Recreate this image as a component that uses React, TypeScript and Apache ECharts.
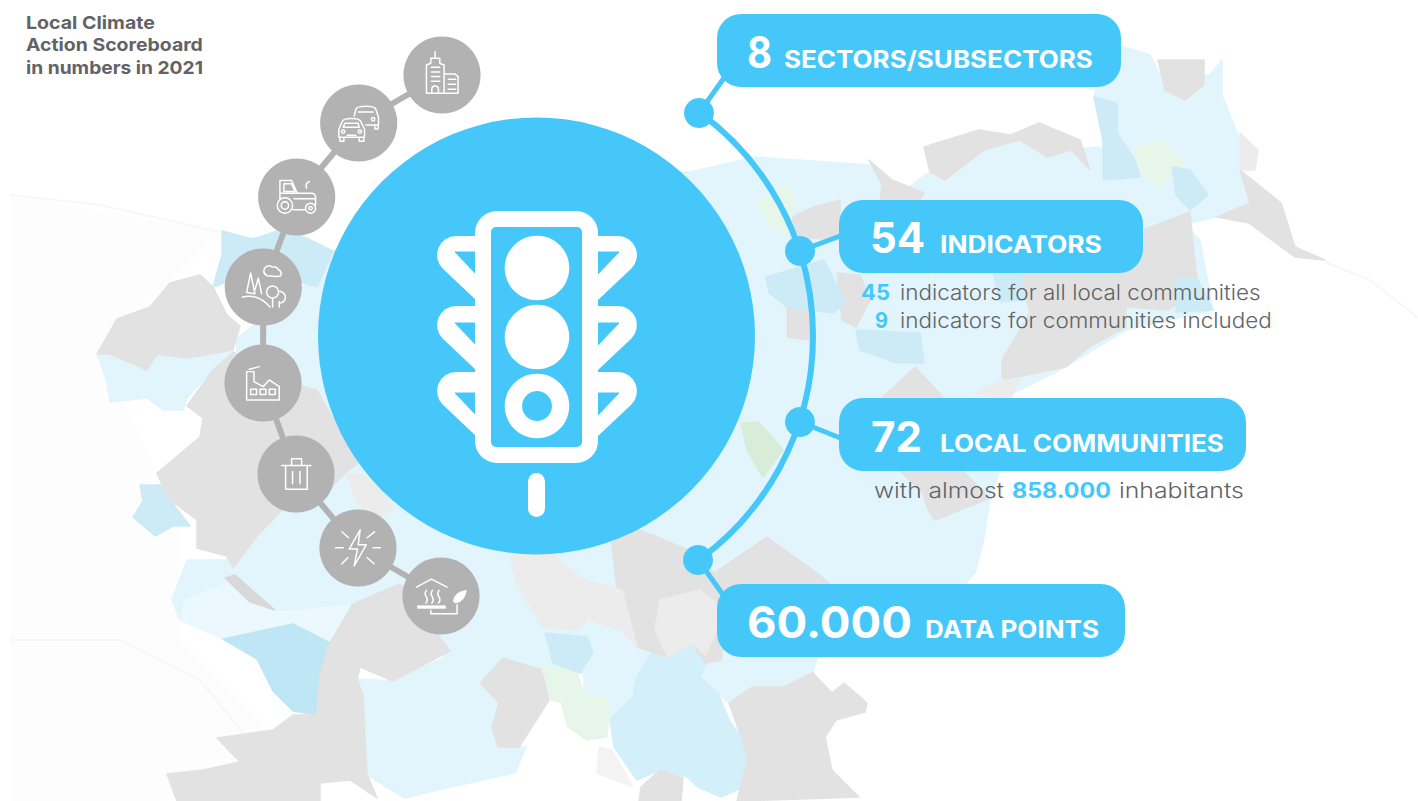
import React, { useEffect, useRef } from "react";
import * as echarts from "echarts";

const titleLines = ["Local Climate", "Action Scoreboard", "in numbers in 2021"];
const pillNumbers = ["8", "54", "72", "60.000"];
const pillLabels = ["SECTORS/SUBSECTORS", "INDICATORS", "LOCAL COMMUNITIES", "DATA POINTS"];
const indicatorCounts = ["45", "9"];
const indicatorNotes = ["indicators for all local communities", "indicators for communities included"];
const inhabitantsParts = ["with almost", "858.000", "inhabitants"];

const BLUE = "#45c8f9";
const GREY = "#b2b2b2";
const TEXT = "#626366";
const FONT = "Inter, 'Open Sans', sans-serif";

const LIGHT = "#e2f5fd";
const LIGHT2 = "#ebf8fd";
const MID = "#cdebf7";
const MID2 = "#bfe6f4";
const G = "#e2e2e2";
const G2 = "#ececec";
const GREEN = "#e6f6e8";
const GREEN2 = "#d9ecd8";

type Pt = [number, number];
const mapShapes: [string, Pt[]][] = [
  ["#fdfdfd", [[10, 195], [220, 232], [100, 350], [180, 520], [180, 640], [300, 760], [160, 801], [10, 801], [10, 640]]],
  [LIGHT, [[237, 338], [300, 290], [333, 251], [500, 170], [690, 172], [755, 157], [870, 165], [905, 190], [925, 175], [984, 150], [1020, 140], [1048, 157], [1071, 150], [1098, 147], [1200, 240], [1213, 310], [1126, 330], [1060, 370], [1000, 400], [1000, 470], [990, 500], [983, 543], [975, 573], [960, 590], [880, 650], [817, 657], [813, 673], [783, 687], [752, 687], [729, 703], [700, 677], [637, 677], [580, 673], [542, 670], [503, 658], [480, 683], [450, 660], [400, 628], [360, 628], [330, 643], [293, 624], [223, 639], [180, 620], [172, 600], [187, 560], [227, 560], [233, 500], [237, 338]]],
  [LIGHT, [[584, 673], [637, 677], [633, 697], [610, 720], [608, 700], [584, 693]]],
  [LIGHT, [[1094, 97], [1100, 70], [1118, 45], [1150, 55], [1160, 75], [1210, 75], [1222, 60], [1222, 95], [1240, 140], [1240, 165], [1250, 203], [1217, 217], [1190, 223], [1160, 230], [1143, 260], [1000, 260], [1000, 200], [1100, 180], [1103, 140]]],
  [LIGHT, [[357, 679], [393, 681], [450, 655], [480, 683], [499, 703], [492, 727], [498, 747], [526, 747], [515, 773], [438, 790], [405, 798], [367, 775]]],
  [LIGHT2, [[185, 600], [235, 580], [280, 612], [350, 605], [355, 625], [330, 643], [293, 624], [223, 639], [180, 620]]],
  [LIGHT, [[97, 354], [110, 354], [147, 370], [157, 354], [187, 358], [233, 350], [213, 370], [187, 398], [183, 410], [163, 410], [147, 398], [110, 402], [107, 382]]],
  [MID, [[222, 231], [253, 239], [277, 231], [300, 235], [333, 251], [317, 287], [260, 270], [213, 287], [222, 255]]],
  [MID, [[140, 485], [160, 485], [180, 513], [190, 526], [173, 526], [155, 536], [133, 517], [143, 501]]],
  [MID2, [[223, 639], [293, 624], [330, 643], [320, 675], [317, 715], [293, 711], [273, 691], [257, 659]]],
  [G, [[97, 354], [117, 319], [150, 307], [170, 283], [200, 275], [213, 287], [227, 315], [240, 326], [233, 350], [187, 358], [157, 354], [147, 370], [110, 354]]],
  [G, [[203, 418], [187, 406], [213, 370], [233, 352], [280, 380], [317, 390], [333, 418], [367, 457], [345, 473], [320, 500], [283, 509], [257, 536], [233, 568], [227, 556], [197, 548], [197, 520], [167, 497], [157, 473], [200, 437]]],
  [G2, [[347, 473], [375, 478], [393, 509], [375, 520], [355, 500]]],
  ["#d8d8d8", [[225, 578], [235, 575], [275, 610], [250, 602]]],
  [G, [[353, 604], [400, 584], [450, 651], [393, 681], [360, 667], [330, 643]]],
  [G, [[330, 643], [360, 667], [357, 679], [363, 695], [367, 774], [377, 798], [350, 780], [320, 783], [320, 801], [177, 801], [167, 774], [203, 770], [240, 762], [217, 738], [273, 730], [293, 715], [317, 715], [320, 675]]],
  [G, [[480, 683], [503, 658], [542, 670], [549, 700], [530, 730], [519, 747], [498, 747], [492, 727], [499, 703]]],
  [GREEN, [[542, 667], [576, 670], [584, 693], [610, 700], [607, 737], [587, 740], [568, 727], [561, 702], [551, 700]]],
  [MID, [[545, 633], [587, 637], [593, 653], [580, 673], [553, 663]]],
  ["#f3f3f3", [[599, 747], [612, 750], [633, 787], [597, 773]]],
  ["#d3effa", [[637, 677], [653, 650], [691, 643], [706, 663], [700, 677], [718, 693], [729, 720], [741, 737], [748, 760], [758, 777], [737, 790], [721, 797], [698, 787], [687, 777], [660, 770], [637, 780], [614, 747], [610, 720], [633, 697]]],
  [G, [[729, 703], [752, 687], [783, 687], [813, 673], [832, 693], [844, 683], [867, 703], [865, 712], [836, 720], [825, 737], [832, 770], [859, 797], [737, 801], [748, 760], [741, 737]]],
  [G, [[639, 801], [681, 801], [683, 778], [660, 770], [641, 787]]],
  [G, [[610, 530], [622, 630], [637, 647], [668, 657], [691, 643], [706, 663], [721, 660], [735, 584], [830, 584], [817, 573], [767, 537], [714, 573], [700, 555], [640, 530]]],
  [G2, [[660, 600], [700, 590], [725, 610], [706, 655], [691, 643], [668, 657], [655, 630]]],
  [G2, [[511, 557], [515, 580], [542, 627], [576, 630], [587, 620], [591, 610], [584, 582], [553, 553]]],
  [G2, [[584, 580], [622, 590], [637, 647], [622, 630], [590, 620]]],
  [G, [[924, 147], [956, 137], [979, 130], [1011, 135], [1039, 123], [1080, 140], [1090, 170], [1071, 150], [1048, 157], [1020, 140], [984, 150], [945, 180], [930, 172]]],
  [G, [[869, 160], [892, 180], [924, 193], [915, 210], [880, 205], [882, 185]]],
  [G, [[1240, 170], [1281, 203], [1295, 247], [1325, 260], [1295, 257], [1249, 223], [1217, 217], [1250, 203]]],
  [G, [[1143, 230], [1190, 212], [1195, 263], [1199, 293], [1167, 310], [1126, 307], [1126, 327], [1089, 347], [1066, 367], [1002, 380], [1002, 360], [1030, 313], [1020, 273], [1143, 260]]],
  [G, [[900, 471], [963, 471], [990, 498], [935, 520], [927, 508], [923, 493]]],
  [G, [[1158, 60], [1204, 60], [1204, 85], [1185, 100], [1165, 90]]],
  [G2, [[1240, 133], [1258, 150], [1255, 170], [1240, 170]]],
  [G, [[814, 207], [792, 217], [796, 237], [840, 240], [840, 200]]],
  [G, [[837, 273], [842, 320], [856, 327], [870, 300], [860, 275]]],
  [G, [[787, 307], [810, 307], [810, 340], [787, 337]]],
  [G, [[883, 397], [915, 367], [943, 397]]],
  [G2, [[975, 393], [1002, 380], [1020, 380], [1010, 400]]],
  [MID, [[766, 277], [800, 267], [824, 260], [846, 303], [833, 313], [787, 307], [769, 293]]],
  [MID, [[856, 330], [920, 333], [924, 363], [897, 363], [860, 350]]],
  [MID, [[993, 273], [1020, 273], [1025, 300], [1000, 302]]],
  [GREEN, [[757, 203], [787, 183], [796, 200], [787, 233], [773, 230]]],
  [GREEN2, [[741, 423], [759, 422], [783, 450], [763, 477], [747, 450]]],
  [GREEN, [[1135, 147], [1162, 140], [1185, 163], [1158, 187], [1140, 173]]],
  [MID, [[1094, 97], [1117, 103], [1117, 133], [1135, 160], [1140, 177], [1103, 180], [1103, 140]]],
  [MID, [[1172, 167], [1190, 170], [1208, 195], [1190, 210], [1176, 195]]],
  [MID, [[1176, 277], [1198, 280], [1213, 310], [1176, 312]]],
];

const faintLines: Pt[][] = [
  [[1325, 262], [1370, 280], [1418, 318]],
  [[10, 195], [100, 205], [220, 232]],
  [[10, 640], [120, 640], [200, 680], [290, 790]],
];

const c = (x: number, y: number, r: number) =>
  `M${x - r} ${y}a${r} ${r} 0 1 0 ${2 * r} 0a${r} ${r} 0 1 0 ${-2 * r} 0`;

const iconPaths: Record<string, string> = {
  building: "M650 190V105L663 100V85H690V100L703 105V190ZM676 65V85M665 112H690M665 126H690M665 140H690M665 154H690M666 190V178A10 10 0 0 1 686 178V190M703 132H735L745 140V190H703M715 148H738M715 163H738M715 178H738",
  cars: "M387 322V298L397 275Q400 266 425 266Q450 266 453 275L464 298V322ZM390 322V334H402V322M448 322V334H462V322M405 280H445L448 292H400ZM412 316H438" + c(400, 305, 5) + c(450, 305, 5) + "M433 258L438 238Q440 229 470 229Q495 229 498 238L506 262V285H468M495 285V297H505V285M445 246H490" + c(490, 268, 5),
  tractor: "M210 510V452H245L262 490H210M222 462H245L255 485H222ZM262 490H305Q315 490 317 500V525M290 475Q285 460 298 455M250 540H285M252 507H315" + c(225, 527, 23) + c(225, 527, 11) + c(302, 535, 15) + c(302, 535, 5),
  forest: "M172 738Q158 732 163 718Q170 702 188 712Q198 708 206 720Q218 726 212 738Q205 742 172 738ZM110 788L122 730L135 792ZM135 780L145 745L155 792M97 802Q145 790 180 832M188 805V832M205 785A16 16 0 1 1 212 820M208 815V832" + c(188, 787, 18),
  factory: "M110 210V125H132V155L160 170L178 150L208 170V210ZM118 118Q130 115 148 110M122 178H140V194H122ZM150 178H168V194H150ZM178 178H196V194H178Z",
  trash: "M215 407H303M245 407V387H275V407M227 407V478H292V407M248 425V462M270 425V462",
  bolt: "M377 654H400M490 654H512M396 606L416 624M494 606L472 624M396 702L414 684M493 702L472 684M451 600L418 658H443L433 708L469 645H445Z",
  heat: "M620 772L665 748L712 772M650 782q-8 10 0 20q6 10 -2 18M668 782q-8 10 0 20q6 10 -2 18M688 782q-8 10 0 20q6 10 -2 18M663 842V852H742V825",
  slab: "M622 832H708",
  leaf: "M730 815Q735 785 770 782Q765 815 738 820Z",
  visor: "M476 236H456A19 19 0 0 0 442.6 268.4L476 300Z",
};
Object.entries(iconPaths).forEach(([name, d]) => {
  echarts.graphic.registerShape("ic_" + name, echarts.graphic.extendPath(d, {}));
});

const ctx = document.createElement("canvas").getContext("2d")!;
function txt(text: string, left: number, right: number, base: number, size: number, weight: number, fill: string) {
  const font = `${weight} ${size}px ${FONT}`;
  ctx.font = font;
  const w = ctx.measureText(text).width;
  return {
    type: "text",
    x: left,
    y: base - size * 0.3635,
    scaleX: (right - left) / w,
    silent: true,
    style: { text, x: 0, y: 0, font, fill, align: "left", verticalAlign: "middle" },
  };
}

function buildElements() {
  const els: any[] = [];
  els.push({ type: "rect", shape: { x: 0, y: 0, width: 1418, height: 801 }, style: { fill: "#ffffff" }, silent: true });
  els.push({ type: "polygon", shape: { points: mapShapes[0][1] }, style: { fill: mapShapes[0][0] }, silent: true });
  faintLines.forEach((points) => {
    els.push({ type: "polyline", shape: { points }, style: { stroke: "#f7f7f7", lineWidth: 2, fill: "none" }, silent: true });
  });
  mapShapes.slice(1).forEach(([fill, points]) => {
    els.push({ type: "polygon", shape: { points }, style: { fill, stroke: fill, lineWidth: 1.5, lineJoin: "round" }, silent: true });
  });

  // grey chain with sector icons
  const chain: Pt[] = [[442, 75], [358.7, 123], [296.7, 197], [263.3, 287], [263, 383], [296, 474], [358, 548], [441, 596]];
  els.push({ type: "polyline", shape: { points: chain }, style: { stroke: GREY, lineWidth: 6, fill: "none" }, silent: true });
  chain.forEach(([cx, cy]) => {
    els.push({ type: "circle", shape: { cx, cy, r: 38.6 }, style: { fill: GREY }, silent: true });
  });
  const iconStyle = { stroke: "#fff", lineWidth: 4.5, fill: "none", lineJoin: "round", lineCap: "round" };
  const t1 = { x: 210, y: 30, scaleX: 1 / 3, scaleY: 1 / 3, silent: true };
  const t2 = { x: 210, y: 330, scaleX: 1 / 3, scaleY: 1 / 3, silent: true };
  ["building", "cars", "tractor", "forest"].forEach((n) => els.push({ type: "ic_" + n, ...t1, style: iconStyle }));
  ["factory", "trash", "bolt", "heat"].forEach((n) => els.push({ type: "ic_" + n, ...t2, style: iconStyle }));
  els.push({ type: "ic_slab", ...t2, style: { ...iconStyle, lineWidth: 10, lineCap: "butt" } });
  els.push({ type: "ic_leaf", ...t2, style: { fill: "#fff", stroke: "#fff", lineWidth: 2 } });

  // main circle and traffic light
  els.push({ type: "circle", shape: { cx: 536.5, cy: 336, r: 218.5 }, style: { fill: BLUE }, silent: true });
  const outerDy = [0, 70, 136];
  const innerTop = [252, 323, 393];
  outerDy.forEach((dy, i) => {
    els.push({ type: "ic_visor", x: 0, y: dy, silent: true, style: { fill: "#fff" } });
    els.push({ type: "ic_visor", x: 1074, y: dy, scaleX: -1, silent: true, style: { fill: "#fff" } });
    const t = innerTop[i];
    els.push({ type: "polygon", shape: { points: [[455, t], [477, t], [477, t + 23]] }, style: { fill: BLUE, stroke: BLUE, lineWidth: 1, lineJoin: "round" }, silent: true });
    els.push({ type: "polygon", shape: { points: [[619, t], [597, t], [597, t + 23]] }, style: { fill: BLUE, stroke: BLUE, lineWidth: 1, lineJoin: "round" }, silent: true });
  });
  els.push({ type: "rect", shape: { x: 475, y: 211, width: 123, height: 252, r: 22 }, style: { fill: "#fff" }, silent: true });
  els.push({ type: "rect", shape: { x: 491, y: 227, width: 91, height: 220, r: 5 }, style: { fill: BLUE }, silent: true });
  [268, 337, 406].forEach((cy) => els.push({ type: "circle", shape: { cx: 537, cy, r: 32.3 }, style: { fill: "#fff" }, silent: true }));
  els.push({ type: "circle", shape: { cx: 537, cy: 406, r: 15 }, style: { fill: BLUE }, silent: true });
  els.push({ type: "rect", shape: { x: 528, y: 473, width: 17, height: 44, r: 8.5 }, style: { fill: "#fff" }, silent: true });

  // right arc, nodes, connectors
  const rad = (d: number) => (d * Math.PI) / 180;
  els.push({ type: "arc", shape: { cx: 536, cy: 336, r: 277, startAngle: rad(-53.8), endAngle: rad(54), clockwise: true }, style: { stroke: BLUE, lineWidth: 6, fill: "none" }, silent: true });
  const links: [Pt, Pt][] = [[[699, 113], [724, 78]], [[800, 251], [848, 233]], [[800, 422], [848, 441]], [[698, 560], [724, 596]]];
  links.forEach(([a, b]) => {
    els.push({ type: "line", shape: { x1: a[0], y1: a[1], x2: b[0], y2: b[1] }, style: { stroke: BLUE, lineWidth: 5 }, silent: true });
    els.push({ type: "circle", shape: { cx: a[0], cy: a[1], r: 15 }, style: { fill: BLUE }, silent: true });
  });

  // pills
  const pills = [[717, 14, 404], [839, 200, 304], [839, 398, 407], [717, 584, 408]];
  pills.forEach(([x, y, width]) => {
    els.push({ type: "rect", shape: { x, y, width, height: 73, r: 24 }, style: { fill: BLUE }, silent: true });
  });
  const numLayout = [[747, 772, 68, 44], [870, 925, 253, 42], [871, 922, 452, 42], [747, 912, 638, 44]];
  const labLayout = [[784, 1093, 68, 24], [940, 1102, 253, 24], [940, 1224, 452, 24], [925, 1099, 638, 24]];
  pillNumbers.forEach((s, i) => {
    const [l, r, b, z] = numLayout[i];
    els.push(txt(s, l, r, b, z, 700, "#fff"));
  });
  pillLabels.forEach((s, i) => {
    const [l, r, b, z] = labLayout[i];
    els.push(txt(s, l, r, b, z, 700, "#fff"));
  });

  // sub texts
  els.push(txt(indicatorCounts[0], 861, 890, 300, 21, 700, BLUE));
  els.push(txt(indicatorCounts[1], 875, 888, 328, 21, 700, BLUE));
  els.push(txt(indicatorNotes[0], 900, 1261, 300, 21, 300, TEXT));
  els.push(txt(indicatorNotes[1], 900, 1272, 328, 21, 300, TEXT));
  els.push(txt(inhabitantsParts[0], 874, 1004, 498, 21, 300, TEXT));
  els.push(txt(inhabitantsParts[1], 1012, 1111, 498, 21, 700, BLUE));
  els.push(txt(inhabitantsParts[2], 1119, 1244, 498, 21, 300, TEXT));

  // title
  const titleRight = [155, 203, 203];
  titleLines.forEach((s, i) => els.push(txt(s, 26, titleRight[i], 29 + i * 22.5, 18, 700, TEXT)));
  return els;
}

export default function App() {
  const ref = useRef<HTMLDivElement>(null);
  useEffect(() => {
    document.body.style.margin = "0";
    const chart = echarts.init(ref.current!, null, { renderer: "svg" });
    chart.setOption({ animation: false, backgroundColor: "#ffffff", graphic: { elements: buildElements() } });
    return () => chart.dispose();
  }, []);
  return <div ref={ref} style={{ position: "fixed", left: 0, top: 0, width: 1418, height: 801 }} />;
}
